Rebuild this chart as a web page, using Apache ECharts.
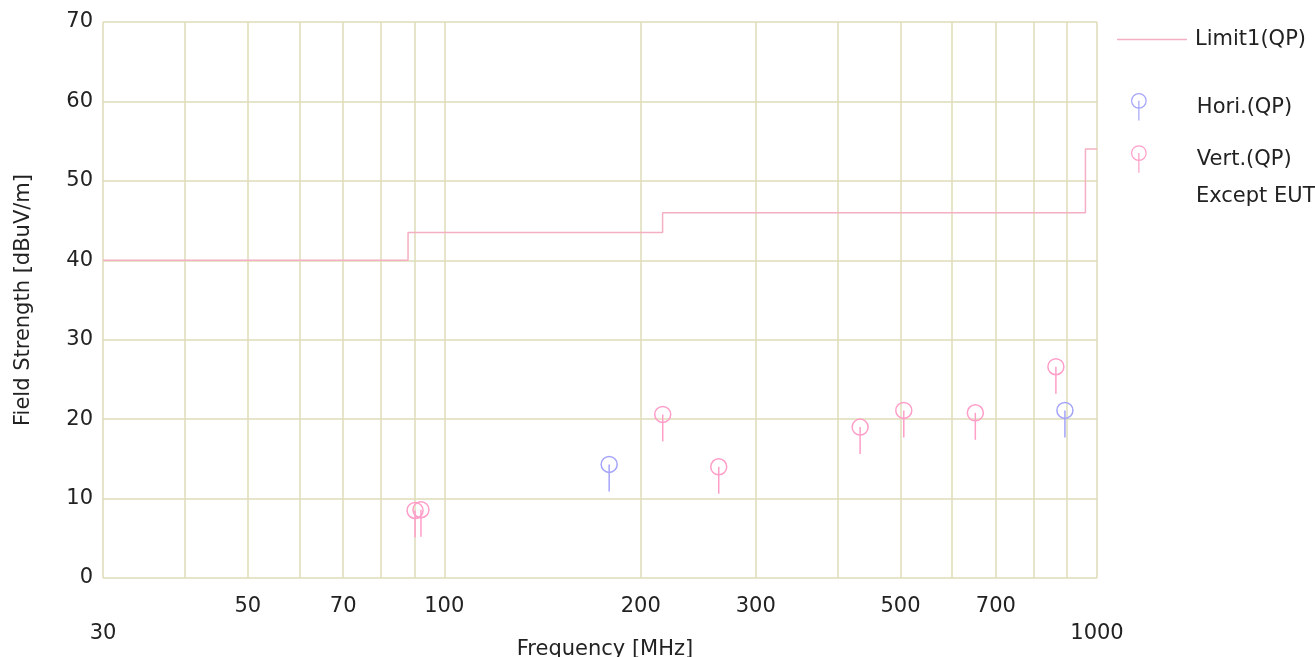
<html>
<head>
  <meta charset="utf-8">
  <style>
    html, body { margin: 0; padding: 0; background: #fff; }
    #container { width: 1315px; height: 657px; }
  </style>
</head>
<body>
<div id="container"></div>
<script type="text/javascript" src="https://cdn.jsdelivr.net/npm/echarts@6/dist/echarts.min.js"></script>
<script type="text/javascript">
  // limit line (step), frequency in MHz / level in dBuV/m
  const limitFreq  = [30, 88, 216, 960, 1000];
  const limitLevel = [40, 43.5, 46, 54, 54];

  // measured QP points
  const horiFreq  = [178.9, 893];
  const horiLevel = [14.3, 21.1];
  const vertFreq  = [90.2, 92.1, 216.1, 263.3, 433.6, 505.8, 651, 865];
  const vertLevel = [8.5, 8.6, 20.6, 14.0, 19.0, 21.1, 20.8, 26.6];

  // axis ticks
  const gridFreqs  = [30, 40, 50, 60, 70, 80, 90, 100, 200, 300, 400, 500, 600, 700, 800, 900, 1000];
  const labelFreqs = [30, 50, 70, 100, 200, 300, 500, 700, 1000];

  const font = 'DejaVu Sans';
  const fs = 21;
  const gridColor = '#dedcb8';
  const limitColor = '#f4b0c2';
  const horiColor = '#a4a4fa';
  const vertColor = '#ff9ec8';

  const zip = (xs, ys) => xs.map((x, i) => [x, ys[i]]);

  var dom = document.getElementById('container');
  var myChart = echarts.init(dom, null, { renderer: 'canvas' });

  function renderMarker(params, api) {
    const p = api.coord([api.value(0), api.value(1)]);
    const color = api.visual('color');
    return {
      type: 'group',
      children: [
        { type: 'line', shape: { x1: p[0], y1: p[1], x2: p[0], y2: p[1] + 27 },
          style: { stroke: color, lineWidth: 1.5 } },
        { type: 'circle', shape: { cx: p[0], cy: p[1], r: 8 },
          style: { stroke: color, fill: 'none', lineWidth: 1.5 } }
      ]
    };
  }

  const markerIcon = 'path://M3,8a7,7 0 1,0 14,0a7,7 0 1,0 -14,0M10,8L10,27';

  var option = {
    animation: false,
    textStyle: { fontFamily: font },
    grid: { left: 103, right: 218, top: 22, bottom: 79, outerBoundsMode: 'none', containLabel: false },
    legend: [
      {
        data: [{ name: 'Limit1(QP)', icon: 'rect', itemStyle: { color: limitColor } }],
        left: 1112, top: 24,
        itemWidth: 70, itemHeight: 1.5,
        textStyle: { fontFamily: font, fontSize: fs, color: '#222', padding: [0, 0, 0, 3] }
      },
      {
        orient: 'vertical',
        left: 1126, top: 88,
        itemWidth: 70, itemHeight: 27, itemGap: 24,
        data: [
          { name: 'Hori.(QP)', icon: markerIcon,
            itemStyle: { color: 'rgba(0,0,0,0)', borderColor: horiColor, borderWidth: 1.2 } },
          { name: 'Vert.(QP)', icon: markerIcon,
            itemStyle: { color: 'rgba(0,0,0,0)', borderColor: vertColor, borderWidth: 1.2 } }
        ],
        textStyle: { fontFamily: font, fontSize: fs, color: '#222', padding: [0, 0, 0, 18] }
      }
    ],
    graphic: [
      { type: 'text', left: 1196, top: 186,
        style: { text: 'Except EUT', font: fs + 'px "DejaVu Sans"', fill: '#222' } }
    ],
    xAxis: {
      type: 'log',
      logBase: 10,
      min: 30,
      max: 1000,
      name: 'Frequency [MHz]',
      nameLocation: 'middle',
      nameGap: 61,
      nameMoveOverlap: false,
      nameTextStyle: { fontFamily: font, fontSize: fs, color: '#222', padding: [0, 0, 0, 10] },
      axisLine: { show: false },
      axisTick: { show: false, customValues: gridFreqs },
      splitLine: { show: true, lineStyle: { color: gridColor, width: 1.5 } },
      axisLabel: {
        customValues: labelFreqs,
        margin: 15,
        fontFamily: font,
        fontSize: fs,
        color: '#222',
        lineHeight: 27,
        formatter: function (v) {
          const n = Math.round(v);
          return (n === 30 || n === 1000) ? '\n' + n : String(n);
        }
      }
    },
    yAxis: {
      type: 'value',
      min: 0,
      max: 70,
      interval: 10,
      name: 'Field Strength [dBuV/m]',
      nameLocation: 'middle',
      nameGap: 69,
      nameMoveOverlap: false,
      nameTextStyle: { fontFamily: font, fontSize: fs, color: '#222' },
      axisLine: { show: false },
      axisTick: { show: false },
      splitLine: { show: true, lineStyle: { color: gridColor, width: 1.5 } },
      axisLabel: { margin: 10, fontFamily: font, fontSize: fs, color: '#222' }
    },
    series: [
      {
        name: 'Limit1(QP)',
        type: 'line',
        step: 'end',
        symbol: 'none',
        data: zip(limitFreq, limitLevel),
        itemStyle: { color: limitColor },
        lineStyle: { color: limitColor, width: 1.5 },
        z: 3
      },
      {
        name: 'Hori.(QP)',
        type: 'custom',
        renderItem: renderMarker,
        data: zip(horiFreq, horiLevel),
        encode: { x: 0, y: 1 },
        itemStyle: { color: horiColor },
        z: 4
      },
      {
        name: 'Vert.(QP)',
        type: 'custom',
        renderItem: renderMarker,
        data: zip(vertFreq, vertLevel),
        encode: { x: 0, y: 1 },
        itemStyle: { color: vertColor },
        z: 4
      }
    ]
  };

  myChart.setOption(option);
  window.addEventListener('resize', myChart.resize);
</script>
</body>
</html>
